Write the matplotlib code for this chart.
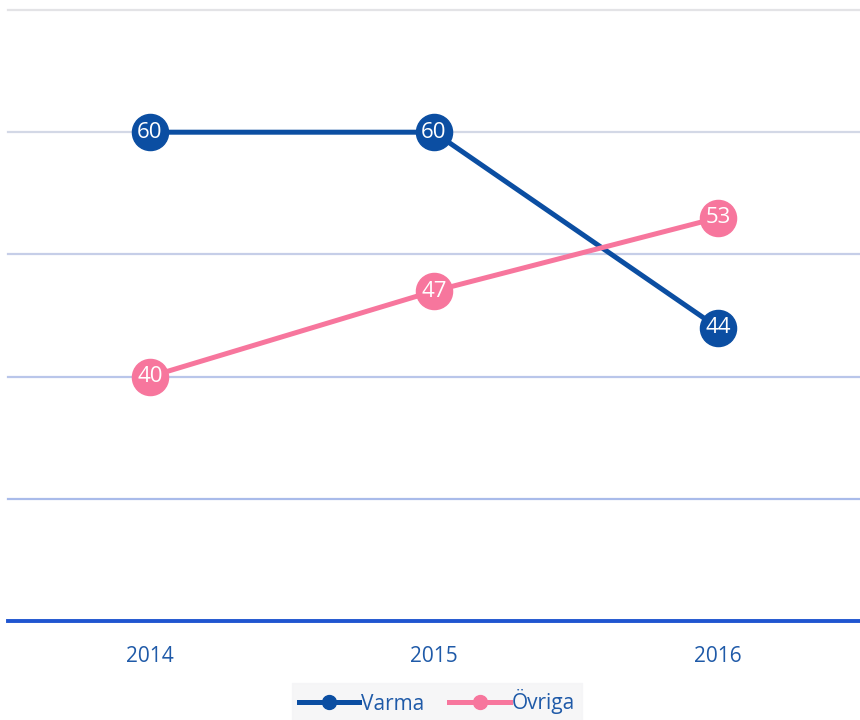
import matplotlib
matplotlib.use("Agg")
import matplotlib.pyplot as plt

plt.rcParams['font.family'] = ['Open Sans', 'DejaVu Sans']

years = ["2014", "2015", "2016"]
varma = [60, 60, 44]
ovriga = [40, 47, 53]
series_names = ["Varma", "Övriga"]
yticks = [20, 30, 40, 50, 60, 70]

c_varma = "#0b4ea2"
c_ovriga = "#f7769d"
grid_colors = {70: "#e3e3e6", 60: "#d3d8e6", 50: "#c6cee8", 40: "#b9c6ea", 30: "#a9bbea"}

fig = plt.figure(figsize=(8.6, 7.2), dpi=100)
ax = fig.add_axes([8/860, (720-621)/720, 852/860, 611/720])
x = list(range(len(years)))

for v in yticks[1:]:
    ax.axhline(v, color=grid_colors[v], lw=1.6, zorder=1, clip_on=False)
ax.axhline(20, color="#1f55d0", lw=2.8, zorder=2, clip_on=False)

for vals, col, name in [(varma, c_varma, series_names[0]), (ovriga, c_ovriga, series_names[1])]:
    ax.plot(x, vals, color=col, lw=3.6, marker="o", markersize=26, zorder=3, label=name)
    for xi, v in zip(x, vals):
        ax.text(xi, v, str(v), color="white", ha="center", va="center", fontsize=16, zorder=4)

ax.set_xlim(-0.5, 2.5)
ax.set_ylim(20, 70)
ax.set_xticks(x)
ax.set_xticklabels(years, color="#1f5aa8", fontsize=15)
ax.tick_params(axis="x", length=0, pad=18)
ax.set_yticks([])
for s in ax.spines.values():
    s.set_visible(False)

from matplotlib.lines import Line2D
handles = [Line2D([0], [0], color=c_varma, lw=3.6, marker="o", markersize=10),
           Line2D([0], [0], color=c_ovriga, lw=3.6, marker="o", markersize=10)]
leg = fig.legend(handles, series_names, loc="center", bbox_to_anchor=(437/860, 1-702/720),
                 ncol=2, frameon=True, fontsize=15, handlelength=2.9, handletextpad=0.1,
                 columnspacing=1.2, borderpad=0.3, fancybox=False)
leg.get_frame().set_facecolor("#f4f4f6")
leg.get_frame().set_edgecolor("#f4f4f6")
for t in leg.get_texts():
    t.set_color("#1f5aa8")

fig.savefig("out.png", dpi=100)
